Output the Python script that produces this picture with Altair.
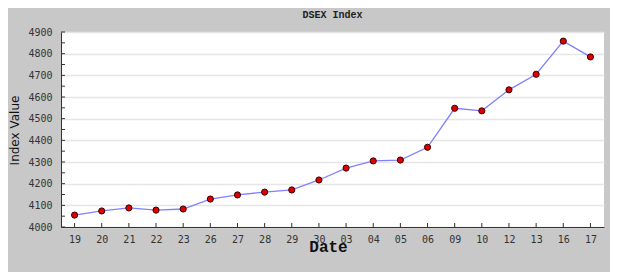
import altair as alt
import pandas as pd

dates = ["19", "20", "21", "22", "23", "26", "27", "28", "29", "30",
         "03", "04", "05", "06", "09", "10", "12", "13", "16", "17"]
values = [4055, 4074, 4088, 4078, 4083, 4129, 4148, 4161, 4171, 4217,
          4272, 4305, 4309, 4368, 4548, 4536, 4633, 4705, 4858, 4785]
y_major = list(range(4000, 4901, 100))
y_all_ticks = list(range(4000, 4901, 50))

df = pd.DataFrame({"date": dates, "value": values})
ticks_df = pd.DataFrame({"value": y_all_ticks})

W, H = 543, 195

xscale = alt.Scale(type="point", padding=0.5)
yscale = alt.Scale(domain=[4000, 4900], nice=False, zero=False)

xaxis = alt.Axis(labelAngle=0, labelFont="DejaVu Sans Mono", labelFontSize=10,
                 labelColor="#333333", labelPadding=7, ticks=False, tickSize=0,
                 domainColor="#333333", domainWidth=1, grid=False,
                 title="Date", titleFont="Liberation Mono", titleFontSize=16,
                 titleFontWeight="bold", titleColor="#111111",
                 titleX=267, titleY=19, titleAlign="center", titleBaseline="middle")
yaxis = alt.Axis(values=y_major, format="d", labelFont="DejaVu Sans Mono", labelFontSize=10,
                 labelColor="#333333", labelPadding=9, ticks=False, tickSize=0,
                 domainColor="#333333", domainWidth=1, grid=True,
                 gridColor="#e6e6e6", gridWidth=1.5,
                 title="Index Value", titleFont="DejaVu Sans", titleFontSize=12,
                 titleFontWeight="normal", titleColor="#111111", titleAngle=270,
                 titleX=-47, titleY=98, titleAlign="center", titleBaseline="middle")

X = alt.X("date:O", sort=None, scale=xscale, axis=xaxis, title="Date")
Y = alt.Y("value:Q", scale=yscale, axis=yaxis, title="Index Value")

base = alt.Chart(df)

line = base.mark_line(color="#8080ff", strokeWidth=1.3).encode(x=X, y=Y)

points = base.mark_point(filled=True, fill="#dd0000", stroke="#3a0000", strokeWidth=1,
                         size=38, opacity=1).encode(x=X, y=Y)

xticks = base.mark_rule(color="#333333", strokeWidth=1).encode(
    x=X,
    y=alt.value(H),
    y2=alt.value(H - 4),
)

yticks = alt.Chart(ticks_df).mark_rule(color="#333333", strokeWidth=1).encode(
    y=Y,
    x=alt.value(0),
    x2=alt.value(4),
)

chart = alt.layer(line, xticks, yticks, points).properties(
    width=W, height=H,
    autosize=alt.AutoSizeParams(type="none"),
    padding={"left": 53, "top": 24, "right": 6, "bottom": 45},
    background="#c8c8c8",
    title=alt.TitleParams("DSEX Index", font="Liberation Mono", fontSize=10,
                          fontWeight="bold", color="#222222", offset=7, anchor="middle"),
).configure_view(stroke=None, fill="white")

chart.save("out.html", embed_options={"renderer": "svg", "actions": False})
